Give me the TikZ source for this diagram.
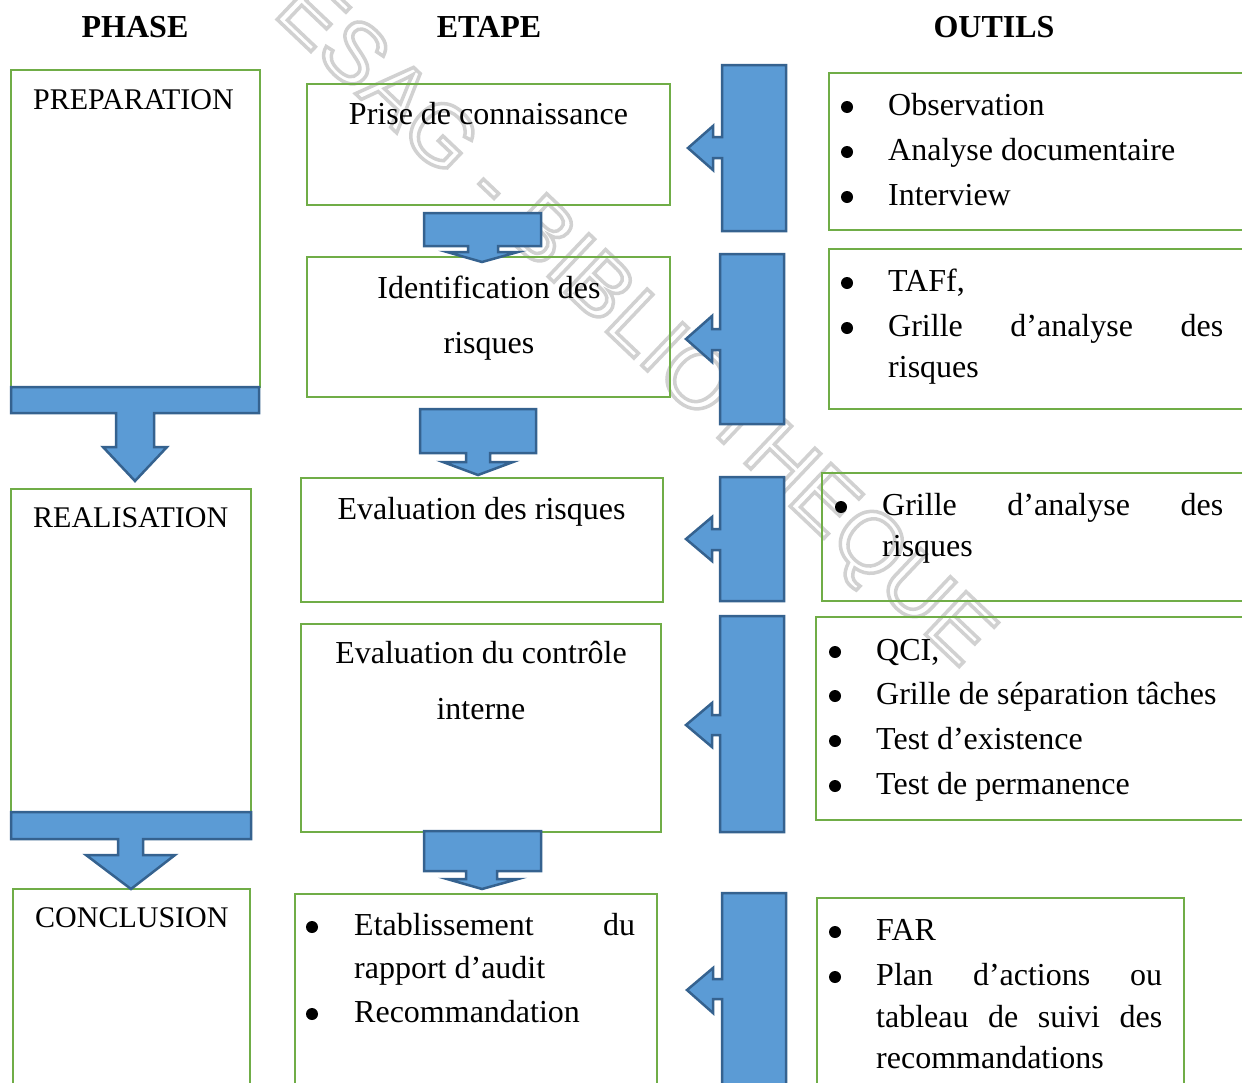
\documentclass[tikz,border=0pt]{standalone}
\usepackage{fontspec}
\setmainfont{Liberation Serif}
\newfontfamily\wmfont{Liberation Sans}
\definecolor{boxgreen}{HTML}{70AD47}
\definecolor{arrfill}{HTML}{5B9BD5}
\definecolor{arredge}{HTML}{35628F}
\tikzset{
  gbox/.style={draw=boxgreen, line width=2.5pt},
  barrow/.style={draw=arredge, fill=arrfill, line width=2.5pt, line join=miter},
  txt/.style={inner sep=0pt, anchor=base, font=\fontsize{32}{45}\selectfont},
  ltxt/.style={txt, anchor=base west},
  dot/.style={circle, fill=black, inner sep=0pt, minimum size=12pt},
  phase/.style={inner sep=0pt, anchor=base west, font=\fontsize{30}{36}\selectfont},
  head/.style={txt, font=\fontsize{32}{45}\selectfont\bfseries}
}

\begin{document}
\begin{tikzpicture}[x=1pt,y=-1pt]
\useasboundingbox (0,0) rectangle (1242,1082);
\clip (0,0) rectangle (1242,1082);
% watermark
\node[rotate=-43.5, inner sep=0pt, text=black!18, font=\wmfont\fontsize{86}{86}\selectfont] (wm) at (632,326)
{\special{pdf:literal direct 1 Tr 3.5 w}ESAG - BIBLIOTHEQUE\special{pdf:literal direct 0 Tr}};
% column titles
\node[head] (hphase) at (135,37) {PHASE};
\node[head] (hetape) at (489,37) {ETAPE};
\node[head] (houtils) at (994,37) {OUTILS};
% phases
\draw[gbox] (11,70) rectangle (260,387);
\draw[gbox] (11,489) rectangle (251,812);
\draw[gbox] (13,889) rectangle (250,1100);
\node[phase] (prep) at (33,109) {PREPARATION};
\node[phase] (real) at (33,527) {REALISATION};
\node[phase] (concl) at (35,927) {CONCLUSION};
\draw[barrow] (11,387)--(259,387)--(259,413)--(154,413)--(154,447)--(167,447)--(135,481)
--(103,447)--(116,447)--(116,413)--(11,413)--cycle;
\draw[barrow] (11,812)--(251,812)--(251,839)--(143,839)--(143,855)--(175,855)--(131,889)
--(86,855)--(118,855)--(118,839)--(11,839)--cycle;
% etapes
\draw[gbox] (307,84) rectangle (670,205);
\draw[gbox] (307,257) rectangle (670,397);
\draw[gbox] (301,478) rectangle (663,602);
\draw[gbox] (301,624) rectangle (661,832);
\draw[gbox] (295,894) rectangle (657,1100);
\node[txt] (e1) at (488.5,124) {Prise de connaissance};
\node[txt] (e2a) at (489,298) {Identification des};
\node[txt] (e2b) at (489,353) {risques};
\node[txt] (e3) at (481.5,519) {Evaluation des risques};
\node[txt] (e4a) at (481,663) {Evaluation du contrôle};
\node[txt] (e4b) at (481,719) {interne};
\node[dot] (e5p1) at (312,927) {};
\node[ltxt] (e5a) at (354,935) {\hbox to 281pt{Etablissement\hfill du}};
\node[ltxt] (e5b) at (354,978) {rapport d’audit};
\node[dot] (e5p2) at (312,1014) {};
\node[ltxt] (e5c) at (354,1022) {Recommandation};
\draw[barrow] (424,213)--(541,213)--(541,246)--(498,246)--(498,252)--(518,252)--(482,262)
--(447,252)--(468,252)--(468,246)--(424,246)--cycle;
\draw[barrow] (420,409)--(536,409)--(536,453)--(490,453)--(490,462)--(513,462)--(478,475)
--(443,462)--(466,462)--(466,453)--(420,453)--cycle;
\draw[barrow] (424,831)--(541,831)--(541,871)--(497,871)--(497,879)--(518,879)--(482,889)
--(447,879)--(466,879)--(466,871)--(424,871)--cycle;
% arrows from the tools
\draw[barrow] (722,65)--(786,65)--(786,231)--(722,231)--(722,158)--(713,158)--(713,170)
--(688,148)--(713,126)--(713,137)--(722,137)--cycle;
\draw[barrow] (720,254)--(784,254)--(784,424)--(720,424)--(720,350)--(712,350)--(712,362)
--(686,339)--(712,316)--(712,329)--(720,329)--cycle;
\draw[barrow] (720,477)--(784,477)--(784,601)--(720,601)--(720,550)--(712,550)--(712,561)
--(686,539)--(712,517)--(712,529)--(720,529)--cycle;
\draw[barrow] (720,616)--(784,616)--(784,832)--(720,832)--(720,735)--(712,735)--(712,747)
--(686,725)--(712,703)--(712,715)--(720,715)--cycle;
\draw[barrow] (722,893)--(786,893)--(786,1100)--(722,1100)--(722,999)--(713,999)--(713,1013)
--(687,990)--(713,968)--(713,979)--(722,979)--cycle;
% outils
\draw[gbox] (829,73) rectangle (1260,230);
\draw[gbox] (829,249) rectangle (1260,409);
\draw[gbox] (822,473) rectangle (1260,601);
\draw[gbox] (816,617) rectangle (1260,820);
\draw[gbox] (817,898) rectangle (1184,1100);
\node[dot] (o1p1) at (847,107) {};
\node[ltxt] (o1a) at (888,115) {Observation};
\node[dot] (o1p2) at (847,152) {};
\node[ltxt] (o1b) at (888,160) {Analyse documentaire};
\node[dot] (o1p3) at (847,197) {};
\node[ltxt] (o1c) at (888,205) {Interview};
\node[dot] (o2p1) at (847,283) {};
\node[ltxt] (o2a) at (888,291) {TAFf,};
\node[dot] (o2p2) at (847,328) {};
\node[ltxt] (o2b) at (888,336) {\hbox to 335pt{Grille\hfill d’analyse\hfill des}};
\node[ltxt] (o2c) at (888,377) {risques};
\node[dot] (o3p1) at (841,507) {};
\node[ltxt] (o3a) at (882,515) {\hbox to 341pt{Grille\hfill d’analyse\hfill des}};
\node[ltxt] (o3b) at (882,556) {risques};
\node[dot] (o4p1) at (835,652) {};
\node[ltxt] (o4a) at (876,660) {QCI,};
\node[dot] (o4p2) at (835,696) {};
\node[ltxt] (o4b) at (876,704) {Grille de séparation tâches};
\node[dot] (o4p3) at (835,741) {};
\node[ltxt] (o4c) at (876,749) {Test d’existence};
\node[dot] (o4p4) at (835,786) {};
\node[ltxt] (o4d) at (876,794) {Test de permanence};
\node[dot] (o5p1) at (835,932) {};
\node[ltxt] (o5a) at (876,940) {FAR};
\node[dot] (o5p2) at (835,977) {};
\node[ltxt] (o5b) at (876,985) {\hbox to 286pt{Plan\hfill d’actions\hfill ou}};
\node[ltxt] (o5c) at (876,1027) {\hbox to 286pt{tableau\hfill de\hfill suivi\hfill des}};
\node[ltxt] (o5d) at (876,1068) {recommandations};
\end{tikzpicture}
\end{document}
